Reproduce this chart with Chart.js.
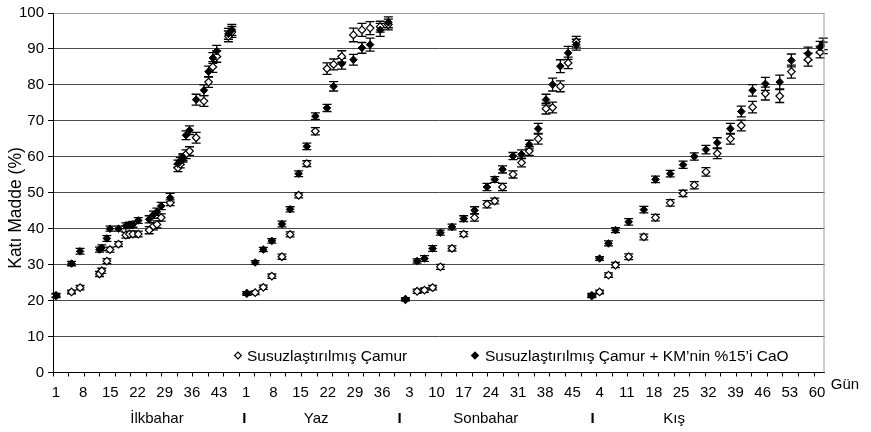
<!DOCTYPE html>
<html>
<head>
<meta charset="utf-8">
<script src="https://cdn.jsdelivr.net/npm/chart.js@4.4.1/dist/chart.umd.min.js"></script>
<style>
  html, body { margin: 0; padding: 0; background: #fff; }
  #wrap { width: 871px; height: 432px; }
</style>
</head>
<body>
<div id="wrap"><canvas id="solidsChart" width="871" height="432"></canvas></div>
<script>
// seasons and where each season's day 1 sits on the shared day axis
const seasons = ["İlkbahar", "Yaz", "Sonbahar", "Kış"];
const seasonOffset = [0, 49, 89, 137];
const seasonLabelAt = [26, 67, 110.7, 159.2];
const separatorAt = [48.5, 88.5, 138.2];

// tick labels, one every 7 days
const tickLabels = ["1", "8", "15", "22", "29", "36", "43", "1", "8", "15", "22", "29", "36",
  "3", "10", "17", "24", "31", "38", "45", "4", "11", "18", "25", "32", "39", "46", "53", "60"];

// İlkbahar
const springDays = [1, 5, 7.2, 12.2, 12.8, 14.1, 14.9, 17.1, 19, 19.9, 20.8, 22.2, 25, 26.1, 27, 28.1,
  30.4, 32.4, 33, 33.7, 34.5, 35.4, 37.1, 39.1, 40.3, 41.4, 42.4, 45.4, 46.3];
const springOpen = [21.3, 22.4, 23.6, 27.4, 28.3, 31.0, 34.2, 35.7, 38.2, 38.5, 38.5, 38.5, 39.6, 40.7, 41.2, 43.1,
  47.2, 56.9, 57.9, 59.5, 60.7, 61.6, 65.3, 75.5, 80.8, 85.0, 87.9, 93.5, 94.7];
const springOpenErr = [0.5, 0.5, 0.6, 0.7, 0.7, 0.7, 0.7, 0.7, 0.8, 0.8, 0.8, 0.8, 1.0, 1.0, 1.0, 1.0,
  0.8, 1.0, 1.0, 1.0, 1.2, 1.2, 1.5, 1.5, 1.5, 1.5, 1.6, 1.5, 1.5];
const springCaO = [21.5, 30.3, 33.7, 34.2, 34.7, 37.3, 40.0, 40.0, 40.8, 41.0, 41.2, 42.3, 42.6, 43.9, 44.7, 46.3,
  48.6, 58.1, 58.8, 59.9, 66.0, 67.4, 75.9, 78.5, 83.7, 87.5, 89.4, 94.2, 95.3];
const springCaOErr = [0.5, 0.6, 0.8, 0.7, 0.8, 0.8, 0.7, 0.7, 0.8, 0.8, 0.8, 0.8, 1.0, 1.0, 1.0, 1.0,
  1.2, 1.0, 1.0, 1.0, 1.2, 1.2, 1.5, 1.5, 1.5, 1.5, 1.6, 1.5, 1.5];

// Yaz
const summerDays = [1.15, 3.3, 5.4, 7.6, 10.2, 12.3, 14.5, 16.6, 18.8, 21.8, 23.5, 25.6, 28.6, 30.8, 32.9, 35.5, 37.6];
const summerOpen = [22.0, 22.2, 23.7, 26.8, 32.2, 38.4, 49.3, 58.1, 67.1, 84.5, 85.7, 87.9, 93.9, 95.3, 95.8, 96.2, 96.8];
const summerOpenErr = [0.5, 0.5, 0.6, 0.6, 0.7, 0.7, 0.7, 0.8, 1.0, 1.6, 1.5, 1.6, 1.9, 1.8, 1.8, 1.5, 1.5];
const summerCaO = [22.0, 30.6, 34.2, 36.6, 41.3, 45.4, 55.3, 62.9, 71.3, 73.6, 79.6, 85.9, 87.0, 90.3, 91.2, 95.3, 97.4];
const summerCaOErr = [0.5, 0.5, 0.6, 0.6, 0.8, 0.7, 0.8, 0.9, 0.9, 1.0, 1.3, 1.5, 1.5, 1.5, 1.8, 1.8, 1.5];

// Sonbahar
const autumnDays = [2, 5, 6.9, 9, 11, 14, 17, 19.8, 23, 25, 27, 29.7, 31.9, 33.9, 36.2, 38.2, 39.9, 41.9, 43.9, 46];
const autumnOpen = [20.3, 22.6, 22.9, 23.6, 29.4, 34.5, 38.5, 43.1, 46.8, 47.7, 51.6, 55.1, 58.4, 61.6, 65.0,
  73.4, 73.7, 79.6, 86.1, 92.0];
const autumnOpenErr = [0.4, 0.6, 0.6, 0.6, 0.7, 0.7, 0.7, 1.0, 1.0, 0.8, 1.0, 1.0, 1.2, 1.2, 1.5, 1.5, 1.5, 1.5, 1.6, 1.5];
const autumnCaO = [20.4, 31.0, 31.7, 34.5, 38.9, 40.5, 42.8, 45.1, 51.6, 53.7, 56.5, 60.2, 60.7, 63.4, 67.8,
  75.9, 80.1, 85.2, 88.9, 91.2];
const autumnCaOErr = [0.4, 0.6, 0.8, 0.8, 0.7, 0.8, 0.8, 1.0, 1.0, 0.8, 1.0, 1.0, 1.2, 1.2, 1.5, 1.5, 1.8, 1.8, 1.8, 1.5];

// Kış
const winterDays = [2, 4, 6.3, 8.1, 11.5, 15.4, 18.4, 22.2, 25.5, 28.4, 31.4, 34.3, 37.7, 40.5, 43.4, 46.7,
  50.4, 53.4, 57.7, 60.8, 61.6];
const winterOpen = [21.3, 22.4, 27.1, 29.9, 32.2, 37.7, 43.1, 47.2, 49.8, 52.1, 55.8, 60.9, 65.0, 68.7, 73.8, 77.6,
  76.9, 83.7, 87.0, 89.1, 90.3];
const winterOpenErr = [0.5, 0.5, 0.6, 0.7, 0.8, 0.8, 0.9, 0.9, 0.9, 1.0, 1.2, 1.4, 1.5, 1.5, 1.6, 1.8,
  1.8, 1.8, 1.8, 1.6, 1.6];
const winterCaO = [21.5, 31.7, 35.9, 39.6, 41.9, 45.3, 53.7, 55.3, 57.8, 60.1, 62.0, 63.9, 67.8, 72.6, 78.5, 80.3,
  80.8, 86.8, 88.7, 90.5, 91.4];
const winterCaOErr = [0.5, 0.5, 0.7, 0.7, 0.9, 0.9, 0.9, 0.9, 1.0, 1.0, 1.2, 1.4, 1.5, 1.5, 1.6, 1.8,
  1.9, 1.8, 1.8, 1.6, 1.6];

const seriesNames = ["Susuzlaştırılmış Çamur", "Susuzlaştırılmış Çamur + KM’nin %15’i CaO"];
const yTitle = "Katı Madde (%)";
const xUnit = "Gün";

const X_MIN = -0.77;
const X_MAX = 197.93;
const FONT = "'Liberation Sans', Arial, sans-serif";

// join the four seasons onto one axis
function buildSeries(dayLists, valueLists, errLists) {
  const points = [];
  const errs = [];
  dayLists.forEach((days, s) => {
    days.forEach((d, i) => {
      points.push({ x: seasonOffset[s] + d - 1, y: valueLists[s][i] });
      errs.push(errLists[s][i]);
    });
  });
  return { points, errs };
}

const allDays = [springDays, summerDays, autumnDays, winterDays];
const openSeries = buildSeries(allDays,
  [springOpen, summerOpen, autumnOpen, winterOpen],
  [springOpenErr, summerOpenErr, autumnOpenErr, winterOpenErr]);
const caoSeries = buildSeries(allDays,
  [springCaO, summerCaO, autumnCaO, winterCaO],
  [springCaOErr, summerCaOErr, autumnCaOErr, winterCaOErr]);

function drawDiamond(ctx, x, y, r, filled) {
  ctx.beginPath();
  ctx.moveTo(x, y - r);
  ctx.lineTo(x + r, y);
  ctx.lineTo(x, y + r);
  ctx.lineTo(x - r, y);
  ctx.closePath();
  ctx.fillStyle = filled ? "#000" : "#fff";
  ctx.fill();
  ctx.lineWidth = 1.2;
  ctx.strokeStyle = "#000";
  ctx.stroke();
}

// error bars, titles, season labels, legend and frame
const extrasPlugin = {
  id: "extras",
  beforeDatasetsDraw(chart) {
    const ctx = chart.ctx;
    const yScale = chart.scales.y;
    ctx.save();
    ctx.strokeStyle = "#000";
    ctx.lineWidth = 1.3;
    chart.data.datasets.forEach((ds, di) => {
      const meta = chart.getDatasetMeta(di);
      meta.data.forEach((pt, i) => {
        const v = ds.data[i].y;
        const e = ds.errors[i];
        const top = yScale.getPixelForValue(v + e);
        const bot = yScale.getPixelForValue(v - e);
        ctx.beginPath();
        ctx.moveTo(pt.x, top);
        ctx.lineTo(pt.x, bot);
        ctx.moveTo(pt.x - 4.5, top);
        ctx.lineTo(pt.x + 4.5, top);
        ctx.moveTo(pt.x - 4.5, bot);
        ctx.lineTo(pt.x + 4.5, bot);
        ctx.stroke();
      });
    });
    ctx.restore();
  },
  afterDraw(chart) {
    const ctx = chart.ctx;
    const area = chart.chartArea;
    const xScale = chart.scales.x;
    ctx.save();

    // right frame line
    ctx.strokeStyle = "#a0a0a0";
    ctx.lineWidth = 1;
    ctx.beginPath();
    ctx.moveTo(area.right - 0.5, area.top);
    ctx.lineTo(area.right - 0.5, area.bottom);
    ctx.stroke();

    // legend inside the plot
    const ly = area.bottom - 17;
    ctx.font = "15.5px " + FONT;
    ctx.textBaseline = "middle";
    ctx.textAlign = "left";
    drawDiamond(ctx, 238, ly, 3.4, false);
    ctx.fillStyle = "#000";
    ctx.fillText(seriesNames[0], 247, ly + 1);
    drawDiamond(ctx, 475, ly, 3.4, true);
    ctx.fillStyle = "#000";
    ctx.fillText(seriesNames[1], 485, ly + 1);

    // season names and separators below the axis
    ctx.font = "15px " + FONT;
    ctx.textAlign = "center";
    seasons.forEach((name, s) => {
      ctx.fillText(name, xScale.getPixelForValue(seasonLabelAt[s]), 419);
    });
    ctx.font = "bold 15px " + FONT;
    separatorAt.forEach((v) => {
      ctx.fillText("I", xScale.getPixelForValue(v), 419);
    });

    // axis unit
    ctx.font = "15px " + FONT;
    ctx.fillText(xUnit, 845, 385);

    // y axis title
    ctx.translate(16, 208);
    ctx.rotate(-Math.PI / 2);
    ctx.font = "17.5px " + FONT;
    ctx.fillText(yTitle, 0, 0);
    ctx.restore();
  },
};

Chart.defaults.font.family = FONT;
Chart.defaults.color = "#000";

const ctxSolids = document.getElementById("solidsChart").getContext("2d");
new Chart(ctxSolids, {
  type: "scatter",
  data: {
    datasets: [
      {
        label: seriesNames[1],
        data: caoSeries.points,
        errors: caoSeries.errs,
        pointStyle: "rectRot",
        pointRadius: 3.8,
        pointBackgroundColor: "#000",
        pointBorderColor: "#000",
        pointBorderWidth: 1,
        order: 0,
      },
      {
        label: seriesNames[0],
        data: openSeries.points,
        errors: openSeries.errs,
        pointStyle: "rectRot",
        pointRadius: 3.8,
        pointBackgroundColor: "#fff",
        pointBorderColor: "#000",
        pointBorderWidth: 1.2,
        order: 1,
      },
    ],
  },
  options: {
    responsive: false,
    animation: false,
    layout: { padding: { top: 11, right: 46.5, left: 0, bottom: 0 } },
    plugins: {
      legend: { display: false },
      tooltip: { enabled: false },
    },
    scales: {
      x: {
        type: "linear",
        min: X_MIN,
        max: X_MAX,
        afterBuildTicks: (scale) => {
          const ticks = [];
          tickLabels.forEach((lbl, i) => ticks.push({ value: i * 7, mark: false }));
          for (let v = X_MIN; v <= X_MAX; v += 4) ticks.push({ value: v, mark: true });
          ticks.sort((a, b) => a.value - b.value);
          scale.ticks = ticks;
        },
        afterFit: (scale) => {
          scale.height = 59.5;
        },
        ticks: {
          autoSkip: false,
          maxRotation: 0,
          padding: 7,
          font: { size: 15 },
          callback: function (value, index, ticks) {
            if (ticks[index] && ticks[index].mark) return "";
            return tickLabels[Math.round(value / 7)];
          },
        },
        grid: {
          drawOnChartArea: false,
          drawTicks: true,
          tickLength: 4,
          color: (c) => (c.tick && c.tick.mark ? "#000" : "rgba(0,0,0,0)"),
        },
        border: { color: "#000", width: 1 },
      },
      y: {
        min: 0,
        max: 100,
        afterFit: (scale) => {
          scale.width = 53;
        },
        ticks: {
          stepSize: 10,
          padding: 4,
          font: { size: 15 },
        },
        grid: {
          color: (c) => (c.tick && c.tick.value === 100 ? "#a0a0a0" : "#4a4a4a"),
          tickColor: "#000",
          tickLength: 5,
          lineWidth: 1,
        },
        border: { color: "#000", width: 1 },
      },
    },
  },
  plugins: [extrasPlugin],
});
</script>
</body>
</html>
